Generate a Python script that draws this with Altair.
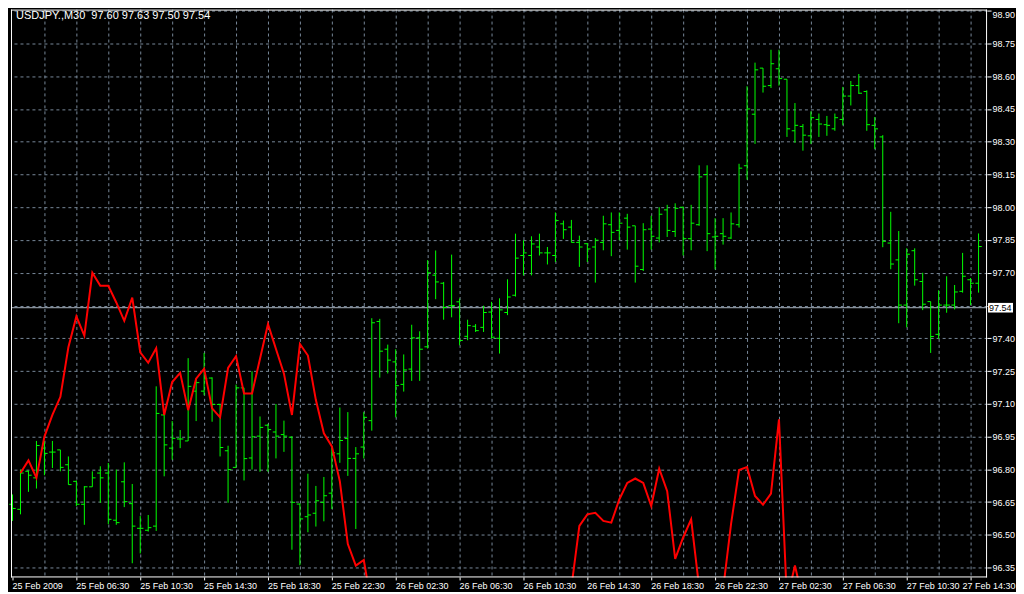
import altair as alt
import pandas as pd

# ---- data (USDJPY M30, 122 bars) ----
opens = [96.64, 96.617, 96.791, 96.761, 96.897, 96.879, 96.889, 96.821, 96.745, 96.64,
         96.72, 96.783, 96.783, 96.567, 96.743, 96.643, 96.53, 96.521, 96.54, 97.049,
         96.897, 96.939, 96.93, 97.158, 97.158, 97.218, 97.097, 96.885, 96.809, 97.173,
         96.852, 96.952, 97.002, 96.971, 96.959, 96.947, 96.641, 96.583, 96.599, 96.649,
         96.691, 96.871, 96.941, 96.85, 96.902, 97.023, 97.477, 97.35, 97.292, 97.189,
         97.259, 97.402, 97.361, 97.689, 97.652, 97.549, 97.567, 97.409, 97.455, 97.45,
         97.52, 97.40, 97.518, 97.597, 97.779, 97.779, 97.818, 97.791, 97.779, 97.924,
         97.909, 97.839, 97.833, 97.818, 97.839, 97.92, 97.894, 97.95, 97.915, 97.715,
         97.90, 97.859, 97.988, 97.889, 98.00, 97.856, 97.92, 98.15, 97.864, 97.879,
         97.859, 97.92, 98.19, 98.426, 98.637, 98.557, 98.634, 98.586, 98.35, 98.37,
         98.327, 98.402, 98.378, 98.359, 98.402, 98.509, 98.557, 98.53, 98.375, 98.322,
         97.836, 97.759, 97.552, 97.801, 97.66, 97.568, 97.418, 97.552, 97.552, 97.615,
         97.668, 97.652]

highs = [96.685, 96.799, 96.794, 96.93, 96.93, 96.93, 96.889, 96.859, 96.749, 96.723,
         96.791, 96.814, 96.829, 96.799, 96.832, 96.733, 96.586, 96.591, 97.18, 97.052,
         97.021, 96.98, 97.309, 97.218, 97.333, 97.221, 97.097, 96.908, 97.188, 97.173,
         97.249, 97.042, 97.008, 97.099, 97.023, 96.952, 96.644, 96.78, 96.724, 96.765,
         96.899, 97.083, 97.062, 96.902, 97.062, 97.492, 97.489, 97.371, 97.35, 97.326,
         97.462, 97.432, 97.758, 97.802, 97.658, 97.783, 97.582, 97.485, 97.465, 97.549,
         97.567, 97.583, 97.67, 97.879, 97.849, 97.867, 97.879, 97.818, 97.976, 97.939,
         97.942, 97.87, 97.836, 97.859, 97.961, 97.976, 97.976, 97.97, 97.915, 97.927,
         97.961, 98.00, 98.011, 98.018, 98.003, 98.011, 98.192, 98.192, 97.95, 97.95,
         97.976, 98.199, 98.554, 98.662, 98.637, 98.721, 98.721, 98.586, 98.477, 98.381,
         98.439, 98.429, 98.418, 98.429, 98.551, 98.578, 98.61, 98.535, 98.413, 98.33,
         97.979, 97.891, 97.812, 97.812, 97.70, 97.568, 97.62, 97.684, 97.644, 97.791,
         97.676, 97.88]

lows = [96.564, 96.594, 96.697, 96.712, 96.773, 96.806, 96.791, 96.73, 96.632, 96.546,
        96.72, 96.647, 96.549, 96.546, 96.627, 96.37, 96.415, 96.515, 96.518, 96.768,
        96.844, 96.897, 96.93, 97.021, 97.139, 97.018, 96.859, 96.647, 96.809, 96.749,
        96.799, 96.789, 96.789, 96.85, 96.88, 96.432, 96.361, 96.512, 96.538, 96.562,
        96.618, 96.83, 96.77, 96.527, 96.85, 96.977, 97.22, 97.239, 97.038, 97.156,
        97.205, 97.205, 97.353, 97.579, 97.485, 97.496, 97.368, 97.391, 97.429, 97.429,
        97.398, 97.33, 97.506, 97.591, 97.688, 97.688, 97.779, 97.738, 97.749, 97.855,
        97.839, 97.727, 97.749, 97.655, 97.803, 97.776, 97.849, 97.806, 97.655, 97.708,
        97.806, 97.839, 97.864, 97.864, 97.779, 97.803, 97.915, 97.799, 97.715, 97.829,
        97.855, 97.907, 98.126, 98.29, 98.525, 98.546, 98.557, 98.322, 98.295, 98.259,
        98.29, 98.322, 98.327, 98.35, 98.375, 98.466, 98.519, 98.35, 98.266, 97.817,
        97.716, 97.469, 97.45, 97.641, 97.529, 97.333, 97.397, 97.517, 97.532, 97.609,
        97.552, 97.609]

closes = [96.621, 96.783, 96.773, 96.909, 96.873, 96.879, 96.809, 96.73, 96.64, 96.72,
          96.761, 96.761, 96.571, 96.556, 96.652, 96.54, 96.53, 96.533, 97.056, 96.912,
          96.942, 96.939, 97.18, 97.197, 97.215, 97.097, 96.90, 96.799, 97.173, 96.849,
          96.949, 96.992, 96.982, 96.952, 96.952, 96.649, 96.573, 96.591, 96.656, 96.679,
          96.876, 96.932, 96.85, 96.871, 97.038, 97.471, 97.341, 97.30, 97.183, 97.255,
          97.402, 97.35, 97.70, 97.658, 97.541, 97.55, 97.39, 97.458, 97.435, 97.518,
          97.405, 97.53, 97.589, 97.767, 97.791, 97.832, 97.791, 97.791, 97.939, 97.897,
          97.839, 97.818, 97.809, 97.849, 97.924, 97.885, 97.927, 97.909, 97.73, 97.897,
          97.867, 97.968, 97.894, 97.995, 97.856, 97.927, 98.139, 97.879, 97.867, 97.867,
          97.924, 98.179, 98.45, 98.629, 98.554, 98.657, 98.589, 98.359, 98.375, 98.33,
          98.41, 98.381, 98.375, 98.41, 98.509, 98.557, 98.522, 98.378, 98.359, 97.844,
          97.74, 97.552, 97.785, 97.668, 97.556, 97.408, 97.552, 97.552, 97.612, 97.684,
          97.652, 97.82]

# red indicator line (values below 96.30 are off the bottom of the chart)
indicator = [None,
             96.783, 96.841, 96.761, 96.95, 97.049, 97.132, 97.359, 97.50, 97.412, 97.70,
             97.64, 97.64, 97.564, 97.48, 97.586, 97.336, 97.288, 97.355, 97.049, 97.20,
             97.242, 97.071, 97.215, 97.26, 97.079, 97.038, 97.264, 97.318, 97.147, 97.147,
             97.306, 97.465, 97.351, 97.238, 97.049, 97.374, 97.321, 97.117, 96.965, 96.905,
             96.745, 96.458, 96.359, 96.385, 96.17, 96.05, 95.95, 95.90, 95.85, 95.80,
             95.78, 95.80, 95.85, 95.90, 95.95, 96.00, 96.02, 96.05, 96.08, 96.10,
             96.12, 96.10, 96.08, 96.12, 96.15, 96.18, 96.20, 96.22, 96.24, 96.26,
             96.541, 96.594, 96.601, 96.564, 96.556, 96.662, 96.738, 96.758, 96.738, 96.632,
             96.803, 96.70, 96.39, 96.488, 96.571, 96.26, 96.15, 96.18, 96.25, 96.55,
             96.797, 96.81, 96.678, 96.638, 96.689, 97.029, 96.20, 96.36, 96.20, 96.10,
             96.02, 95.95, 95.90, 95.85, 95.82, 95.80, 95.78, 95.75, 95.72, 95.70,
             95.70, 95.68, 95.66, 95.65, 95.64, 95.64, 95.63, 95.62, 95.62, 95.61, 95.60]

time_labels = ["25 Feb 2009", "25 Feb 06:30", "25 Feb 10:30", "25 Feb 14:30",
               "25 Feb 18:30", "25 Feb 22:30", "26 Feb 02:30", "26 Feb 06:30",
               "26 Feb 10:30", "26 Feb 14:30", "26 Feb 18:30", "26 Feb 22:30",
               "27 Feb 02:30", "27 Feb 06:30", "27 Feb 10:30", "27 Feb 14:30"]

price_ticks = [96.35, 96.50, 96.65, 96.80, 96.95, 97.10, 97.25, 97.40, 97.55,
               97.70, 97.85, 98.00, 98.15, 98.30, 98.45, 98.60, 98.75, 98.90]

bid_price = [97.54]
header_text = ["USDJPY.,M30\u00a0\u00a097.60 97.63 97.50 97.54"]

# ---- build ----
n = len(opens)
df = pd.DataFrame({"i": list(range(n)), "open": opens, "high": highs,
                   "low": lows, "close": closes, "ind": indicator})

W, H = 978, 569
FONT = "Liberation Sans"
FS = 9
GRID = "#778899"
labels_js = "[" + ",".join("'%s'" % s for s in time_labels) + "]"
last_tick = 8 * (len(time_labels) - 1)

x_scale = alt.Scale(domain=[-0.1875, (W - 1.5) / 8], nice=False, zero=False)
y_scale = alt.Scale(domain=[96.305, 98.905], nice=False, zero=False)

x_axis = alt.Axis(
    values=list(range(0, n, 4)),
    labelExpr="datum.value % 8 == 0 ? " + labels_js + "[datum.value / 8] : ''",
    title=None, grid=True, gridColor=GRID, gridDash=[3, 3], gridWidth=1,
    gridOpacity={"condition": {"test": "datum.value == 0", "value": 0}, "value": 1},
    tickColor="white", tickSize=3,
    tickOpacity={"condition": {"test": "datum.value % 8 == 0", "value": 1}, "value": 0},
    labelColor="white", labelFont=FONT, labelFontSize=FS, labelAlign="left",
    labelBaseline="top", labelPadding=2, labelOverlap=False, labelFlush=False,
    labelOffset={"condition": {"test": "datum.value == %d" % last_tick, "value": -8},
                 "value": 0},
    domain=False, translate=0,
)
y_axis = alt.Axis(
    orient="right", values=price_ticks,
    labelExpr="abs(datum.value - 97.55) < 0.001 ? '' : format(datum.value, '.2f')",
    title=None, grid=True, gridColor=GRID, gridDash=[3, 3], gridWidth=1,
    tickColor="white", tickSize=4,
    labelColor="white", labelFont=FONT, labelFontSize=FS, labelPadding=1,
    labelBaseline={"condition": {"test": "datum.value > 98.85", "value": "top"},
                   "value": "middle"},
    labelOverlap=False, domain=False,
)

X = lambda f: alt.X(f, scale=x_scale, axis=x_axis)
Y = lambda f: alt.Y(f, scale=y_scale, axis=y_axis)

base = alt.Chart(df)
GREEN = "#00ff00"

bid_df = pd.DataFrame({"bid": bid_price})
bid_line = alt.Chart(bid_df).mark_rule(color="#aab4c0", strokeWidth=1).encode(
    y=Y("bid:Q"))

hl = base.mark_rule(color=GREEN, strokeWidth=1).encode(
    x=X("i:Q"), y=Y("low:Q"), y2="high:Q")
open_tick = base.transform_calculate(ox="datum.i - 0.4").mark_rule(
    color=GREEN, strokeWidth=1).encode(x=X("ox:Q"), x2="i:Q", y=Y("open:Q"))
close_tick = base.transform_calculate(cx="datum.i + 0.4").mark_rule(
    color=GREEN, strokeWidth=1).encode(x=X("i:Q"), x2="cx:Q", y=Y("close:Q"))

red = base.mark_line(color="#ff0000", strokeWidth=2, clip=True).encode(
    x=X("i:Q"), y=Y("ind:Q"))

# white frame around the price area
one = alt.Chart(pd.DataFrame({"k": [0]}))
frame_left = one.mark_rule(color="white", strokeWidth=1).encode(x=alt.value(0.5))
frame_right = one.mark_rule(color="white", strokeWidth=1).encode(x=alt.value(W - 0.5))
frame_top = one.mark_rule(color="white", strokeWidth=1).encode(y=alt.value(0.5))
frame_bottom = one.mark_rule(color="white", strokeWidth=1).encode(y=alt.value(H - 0.5))

head_df = pd.DataFrame({"t": header_text})
header = alt.Chart(head_df).mark_text(
    align="left", baseline="middle", color="white", font=FONT, fontSize=11
).encode(x=alt.value(5), y=alt.value(6.5), text="t:N")

box = alt.Chart(bid_df).transform_calculate(
    top="datum.bid + 0.022", bot="datum.bid - 0.022"
).mark_rect(color="white").encode(
    x=alt.value(W + 1), x2=alt.value(W + 26), y=Y("top:Q"), y2="bot:Q")
box_text = alt.Chart(bid_df).transform_calculate(
    lab="format(datum.bid, '.2f')"
).mark_text(align="left", baseline="middle", color="black", font=FONT,
            fontSize=FS).encode(x=alt.value(W + 2), y=Y("bid:Q"), text="lab:N")

chart = alt.layer(
    bid_line, hl, open_tick, close_tick, red,
    frame_left, frame_right, frame_top, frame_bottom,
    header, box, box_text
).properties(
    width=W, height=H, background="black",
    padding={"left": 0, "top": 0, "right": 0, "bottom": 0},
).configure_view(stroke="transparent", strokeWidth=0)

chart.save("out.html", embed_options={"renderer": "svg", "actions": False})
